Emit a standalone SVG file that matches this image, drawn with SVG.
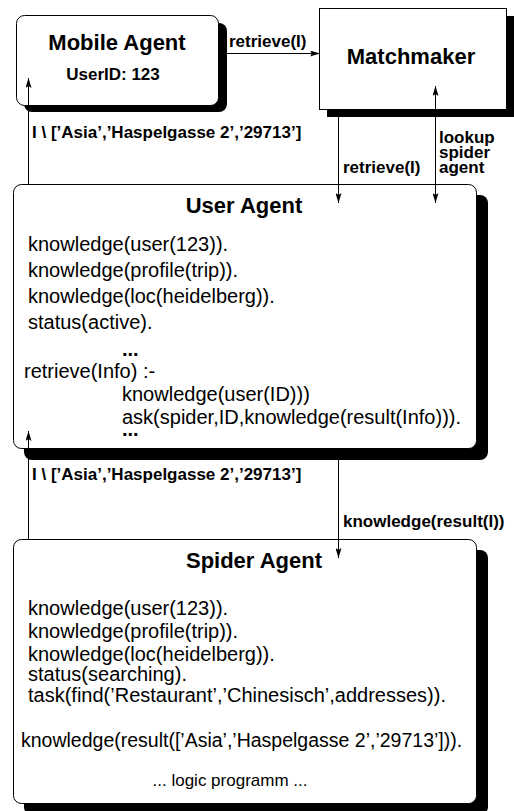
<svg xmlns="http://www.w3.org/2000/svg" width="514" height="811" viewBox="0 0 514 811">
<defs>
<style>
.box{fill:#fff;stroke:#000;stroke-width:1}
.shadow{fill:#000;stroke:none}
.t{font-family:"Liberation Sans",Arial,Helvetica,sans-serif;fill:#000}
.title{font-weight:bold;font-size:22px}
.sub{font-weight:bold;font-size:17px}
.lbl{font-weight:bold;font-size:17px}
.body{font-size:20px}
.dots{font-weight:bold;font-size:20px}
.conn{stroke:#000;stroke-width:1;fill:none}
</style>
<marker id="ah" viewBox="0 0 10 6" refX="10" refY="3" markerWidth="10" markerHeight="6" markerUnits="userSpaceOnUse" orient="auto-start-reverse">
<path d="M0,0 L10,3 L0,6 L2,3 z" fill="#000"/>
</marker>
</defs>
<rect width="514" height="811" fill="#fff"/>

<g id="mobile-agent">
<rect class="shadow" x="24" y="23" width="203" height="89" rx="8"/>
<rect class="box" x="16.5" y="15.5" width="202" height="90" rx="8"/>
<text class="t title" x="117" y="50" text-anchor="middle">Mobile Agent</text>
<text class="t sub" x="113" y="80" text-anchor="middle">UserID: 123</text>
</g>

<g id="matchmaker">
<rect class="shadow" x="327" y="16" width="187" height="101"/>
<rect class="box" x="319.5" y="8.5" width="187" height="101"/>
<text class="t title" x="411" y="64" text-anchor="middle">Matchmaker</text>
</g>

<g id="user-agent">
<rect class="shadow" x="24" y="195" width="464" height="265" rx="8"/>
<rect class="box" x="13.5" y="184.5" width="463" height="264" rx="8"/>
<text class="t title" x="244" y="213" text-anchor="middle">User Agent</text>
<text class="t body" x="28" y="251">knowledge(user(123)).</text>
<text class="t body" x="28" y="277">knowledge(profile(trip)).</text>
<text class="t body" x="28" y="303">knowledge(loc(heidelberg)).</text>
<text class="t body" x="28" y="329">status(active).</text>
<text class="t dots" x="122" y="356">...</text>
<text class="t body" x="24" y="378">retrieve(Info) :-</text>
<text class="t body" x="122" y="401">knowledge(user(ID)))</text>
<text class="t body" x="122" y="424">ask(spider,ID,knowledge(result(Info))).</text>
<text class="t dots" x="122" y="436">...</text>
</g>

<g id="spider-agent">
<rect class="shadow" x="24" y="550" width="464" height="265" rx="8"/>
<rect class="box" x="13.5" y="539.5" width="463" height="264" rx="8"/>
<text class="t title" x="254" y="568" text-anchor="middle">Spider Agent</text>
<text class="t body" x="28" y="615">knowledge(user(123)).</text>
<text class="t body" x="28" y="638">knowledge(profile(trip)).</text>
<text class="t body" x="28" y="661">knowledge(loc(heidelberg)).</text>
<text class="t body" x="28" y="681">status(searching).</text>
<text class="t body" x="28" y="702">task(find(’Restaurant’,’Chinesisch’,addresses)).</text>
<text class="t body" x="21" y="747" style="font-size:19.5px">knowledge(result([’Asia’,’Haspelgasse 2’,’29713’])).</text>
<text class="t" x="230" y="786" text-anchor="middle" style="font-size:17px">... logic programm ...</text>
</g>

<g id="connectors">
<path class="conn" d="M218.5,53.5 H320" marker-end="url(#ah)"/>
<path class="conn" d="M28.5,184 V78" marker-end="url(#ah)"/>
<path class="conn" d="M338.5,117 V203" marker-end="url(#ah)"/>
<path class="conn" d="M435.5,86 V203" marker-start="url(#ah)" marker-end="url(#ah)"/>
<path class="conn" d="M28.5,539 V431" marker-end="url(#ah)"/>
<path class="conn" d="M338.5,460 V558" marker-end="url(#ah)"/>
<text class="t lbl" x="229" y="47">retrieve(I)</text>
<text class="t lbl" x="32" y="138">I \ [’Asia’,’Haspelgasse 2’,’29713’]</text>
<text class="t lbl" x="343" y="173">retrieve(I)</text>
<text class="t lbl" x="439" y="143">lookup</text>
<text class="t lbl" x="439" y="158">spider</text>
<text class="t lbl" x="439" y="173">agent</text>
<text class="t lbl" x="32" y="480">I \ [’Asia’,’Haspelgasse 2’,’29713’]</text>
<text class="t lbl" x="343" y="527">knowledge(result(I))</text>
</g>
</svg>
